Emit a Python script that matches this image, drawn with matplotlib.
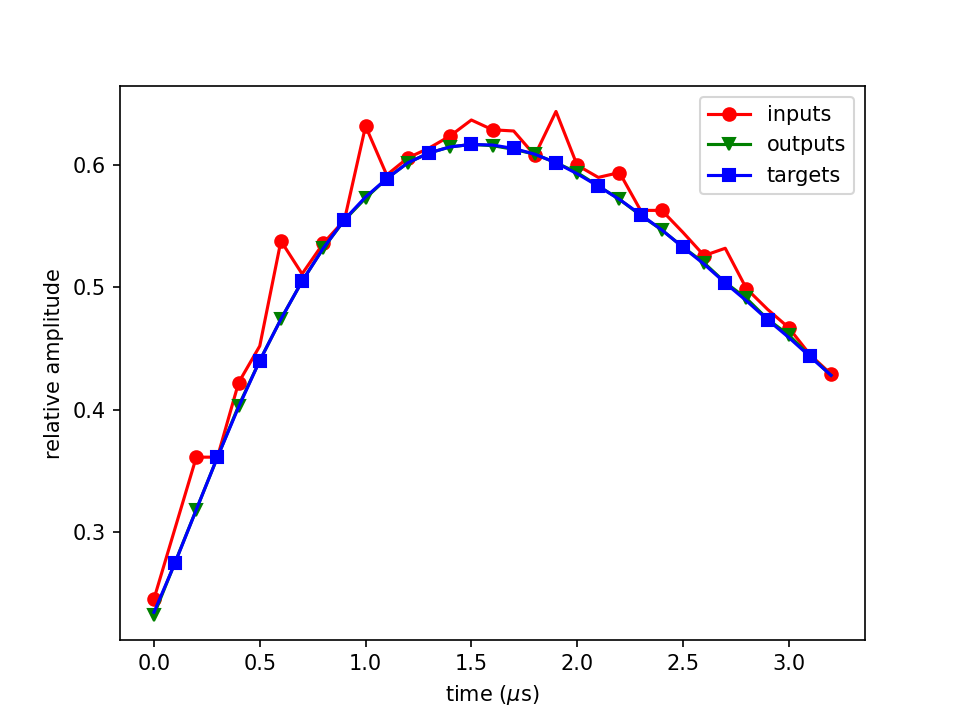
import numpy as np
import matplotlib
matplotlib.use('Agg')
import matplotlib.pyplot as plt

# time axis in microseconds, 0.0 .. 3.2 in steps of 0.1
t = [0.0, 0.1, 0.2, 0.3, 0.4, 0.5, 0.6, 0.7, 0.8, 0.9, 1.0,
     1.1, 1.2, 1.3, 1.4, 1.5, 1.6, 1.7, 1.8, 1.9, 2.0,
     2.1, 2.2, 2.3, 2.4, 2.5, 2.6, 2.7, 2.8, 2.9, 3.0,
     3.1, 3.2]

inputs = [0.245, 0.303, 0.361, 0.361, 0.422, 0.452, 0.538, 0.511, 0.536, 0.555, 0.632,
          0.592, 0.606, 0.614, 0.624, 0.637, 0.629, 0.628, 0.608, 0.644, 0.600,
          0.590, 0.594, 0.563, 0.563, 0.545, 0.526, 0.532, 0.499, 0.482, 0.467,
          0.445, 0.429]

outputs = [0.232, 0.275, 0.318, 0.361, 0.403, 0.440, 0.474, 0.505, 0.532, 0.555, 0.573,
           0.589, 0.602, 0.610, 0.615, 0.617, 0.616, 0.613, 0.609, 0.602, 0.594,
           0.583, 0.572, 0.559, 0.547, 0.533, 0.520, 0.504, 0.491, 0.474, 0.461,
           0.444, 0.428]

targets = [0.234, 0.2746, 0.318, 0.361, 0.402, 0.440, 0.474, 0.505, 0.532, 0.5555, 0.574,
           0.589, 0.602, 0.610, 0.615, 0.617, 0.6165, 0.6137, 0.609, 0.602, 0.593,
           0.5828, 0.572, 0.5596, 0.547, 0.5328, 0.519, 0.5035, 0.489, 0.4735, 0.459,
           0.4434, 0.428]

fig = plt.figure(figsize=(9.61 / 1.5, 7.19 / 1.5), dpi=150)
plt.plot(t, inputs, 'ro-', markevery=2, label='inputs')
# no triangle on the last point in the original
plt.plot(t, outputs, 'gv-', markevery=slice(0, len(t) - 1, 2), label='outputs')
plt.plot(t, targets, 'bs-', markevery=(1, 2), label='targets')
plt.xlabel(r'time ($\mu$s)')
plt.ylabel('relative amplitude')
plt.legend(loc='upper right')
plt.savefig('out.png', dpi=150)
